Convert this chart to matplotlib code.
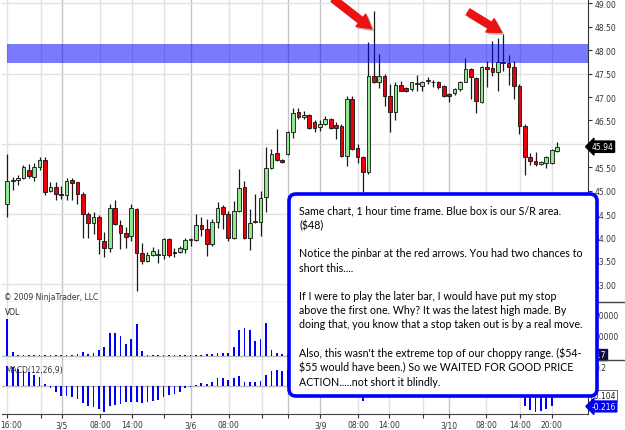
import matplotlib
matplotlib.use('Agg')
import matplotlib.pyplot as plt
import matplotlib.transforms as mtransforms
import numpy as np
from matplotlib.patches import FancyBboxPatch, Rectangle
from matplotlib.lines import Line2D

# hourly bars 3/4 16:00 .. 3/10 20:00
opens = [44.72, 45.20, 45.23, 45.27, 45.44, 45.29, 45.50, 45.66, 45.00, 45.07,
         44.92, 44.91, 45.23, 45.18, 44.94, 44.50, 44.31, 44.43, 43.93, 43.77,
         44.64, 44.27, 44.09, 44.03, 44.61, 43.66, 43.50, 43.63, 43.63, 43.63,
         43.97, 43.68, 43.68, 43.75, 43.95, 43.95, 44.27, 44.18, 43.86, 44.34,
         44.66, 44.50, 43.98, 44.57, 45.07, 43.98, 44.33, 44.34, 44.86, 45.48,
         45.81, 45.66, 45.78, 46.25, 46.68, 46.57, 46.62, 46.46, 46.37, 46.43,
         46.53, 46.40, 46.39, 45.75, 46.96, 45.91, 45.73, 45.39, 47.46, 47.32,
         47.46, 47.03, 46.69, 47.26, 47.19, 47.17, 47.28, 47.23, 47.35, 47.33,
         47.32, 47.23, 47.07, 47.08, 47.17, 47.33, 47.59, 47.40, 46.89, 47.64,
         47.62, 47.54, 47.74, 47.72, 47.64, 47.24, 46.39, 45.71, 45.64, 45.56,
         45.59, 45.60, 45.85]
highs = [45.78, 45.30, 45.34, 45.55, 45.56, 45.60, 45.71, 45.71, 45.19, 45.19,
         45.10, 45.27, 45.27, 45.19, 44.97, 44.54, 44.55, 44.48, 44.12, 44.72,
         44.80, 44.37, 44.22, 44.72, 44.62, 43.88, 43.70, 43.79, 43.75, 44.00,
         43.99, 43.77, 43.81, 44.00, 44.00, 44.50, 44.43, 44.40, 44.40, 44.76,
         44.69, 44.57, 44.79, 45.46, 45.21, 44.61, 44.93, 45.00, 45.93, 45.89,
         46.32, 45.68, 46.28, 46.76, 46.76, 46.71, 46.64, 46.50, 46.50, 46.60,
         46.55, 46.46, 46.43, 47.03, 47.03, 46.00, 45.75, 48.17, 48.85, 47.92,
         47.49, 47.28, 47.32, 47.35, 47.22, 47.33, 47.47, 47.35, 47.42, 47.36,
         47.35, 47.26, 47.08, 47.19, 47.35, 47.83, 47.62, 47.42, 47.66, 47.78,
         48.20, 48.26, 48.35, 47.90, 47.78, 47.28, 46.43, 45.80, 45.82, 45.63,
         45.75, 45.90, 46.05]
lows = [44.43, 45.02, 45.12, 45.25, 45.27, 45.20, 45.45, 44.91, 44.97, 44.80,
        44.82, 44.80, 44.80, 44.72, 43.98, 44.00, 44.07, 43.65, 43.58, 43.70,
        44.27, 43.75, 43.77, 43.93, 42.86, 43.43, 43.48, 43.61, 43.45, 43.54,
        43.59, 43.58, 43.67, 43.66, 43.82, 43.93, 44.04, 43.61, 43.82, 44.20,
        44.18, 43.93, 43.97, 44.54, 43.97, 43.73, 44.31, 44.03, 44.54, 45.46,
        45.64, 45.60, 45.76, 46.12, 46.53, 46.53, 46.32, 46.26, 46.28, 46.40,
        46.31, 46.10, 45.71, 45.53, 45.87, 45.60, 44.98, 45.36, 47.30, 47.19,
        46.80, 46.25, 46.50, 47.12, 47.10, 47.14, 47.14, 47.14, 47.27, 47.21,
        47.17, 47.00, 46.89, 47.05, 47.14, 47.33, 46.97, 46.66, 46.87, 47.21,
        47.46, 47.12, 47.56, 47.26, 46.97, 46.21, 45.34, 45.55, 45.52, 45.54,
        45.48, 45.57, 45.82]
closes = [45.20, 45.22, 45.28, 45.50, 45.31, 45.50, 45.66, 44.97, 45.07, 44.94,
          44.90, 45.21, 45.16, 44.94, 44.50, 44.31, 44.43, 43.97, 43.77, 44.64,
          44.29, 44.09, 44.02, 44.62, 43.66, 43.50, 43.63, 43.72, 43.64, 43.97,
          43.63, 43.67, 43.77, 43.95, 43.96, 44.27, 44.18, 43.86, 44.34, 44.64,
          44.50, 43.98, 44.57, 45.05, 44.00, 44.31, 44.34, 44.84, 45.48, 45.78,
          45.66, 45.62, 46.26, 46.65, 46.57, 46.62, 46.35, 46.35, 46.43, 46.53,
          46.33, 46.33, 45.75, 46.96, 45.89, 45.73, 45.39, 47.46, 47.32, 47.46,
          47.03, 46.68, 47.26, 47.14, 47.12, 47.32, 47.29, 47.32, 47.36, 47.32,
          47.21, 47.03, 47.03, 47.17, 47.33, 47.59, 47.42, 46.92, 47.64, 47.59,
          47.53, 47.74, 47.72, 47.64, 47.24, 46.38, 45.71, 45.64, 45.56, 45.62,
          45.71, 45.88, 45.94]
volumes = [18000, 1950, 350, 350, 350, 350, 150, 350, 350, 350,
           350, 350, 490, 830, 1950, 830, 1300, 2800, 4400, 11100,
           11100, 9800, 5700, 8200, 15500, 2450, 350, 150, 150, 350,
           150, 150, 150, 350, 150, 350, 350, 640, 830, 1470,
           1470, 1470, 4070, 12600, 13400, 12600, 7350, 8200, 16000, 2800,
           1470, 640, 350, 900, 400, 300, 350, 300, 250, 300,
           350, 400, 900, 3500, 5200, 4800, 6100, 17800, 15200, 9600,
           8800, 11400, 7200, 2600, 1400, 900, 700, 500, 400, 350,
           400, 450, 500, 450, 600, 1900, 3100, 5600, 8700, 6400,
           9100, 10800, 12200, 7600, 8900, 14300, 12100, 5200, 3300, 1800,
           1200, 900, 417]
macdDiff = [0.209, 0.191, 0.174, 0.156, 0.139, 0.112, 0.087, 0.018, -0.028, -0.070,
            -0.112, -0.112, -0.122, -0.139, -0.180, -0.216, -0.226, -0.243, -0.278, -0.216,
            -0.201, -0.191, -0.174, -0.174, -0.174, -0.180, -0.174, -0.164, -0.149, -0.115,
            -0.097, -0.087, -0.063, -0.028, -0.018, 0.010, 0.024, 0.018, 0.042, 0.076,
            0.076, 0.063, 0.076, 0.097, 0.042, 0.042, 0.042, 0.052, 0.112, 0.156,
            0.164, 0.156, 0.167, 0.188, 0.177, 0.156, 0.125, 0.094, 0.063, 0.042,
            0.021, -0.010, -0.052, -0.021, -0.063, -0.094, -0.156, 0.063, 0.125, 0.167,
            0.146, 0.094, 0.083, 0.073, 0.052, 0.042, 0.031, 0.021, 0.021, 0.010,
            0.0, -0.021, -0.031, -0.031, -0.021, 0.010, 0.0, -0.031, 0.0, 0.010,
            0.010, 0.021, 0.021, 0.010, -0.021, -0.094, -0.209, -0.250, -0.271, -0.261,
            -0.243, -0.216, -0.099]

tickPos = [1.0, 7.2, 11.1, 18.2, 24.1, 30.1, 35.1, 42.1, 48.2, 53.1,
           59.1, 66.1, 71.9, 78.1, 83.0, 89.9, 96.1, 102.0]
tickLabels = ['16:00', '', '3/5', '08:00', '14:00', '', '3/6', '08:00', '', '',
              '3/9', '08:00', '14:00', '', '3/10', '08:00', '14:00', '20:00']
dayLines = [11.1, 35.1, 53.1, 59.1, 83.0]

priceTicks = np.arange(43, 49.01, 0.5)
srLow, srHigh = 47.72, 48.13
lastPrice = 45.94
macdLabels = [-0.104, -0.216]

noteLines = [
    "Same chart, 1 hour time frame. Blue box is our S/R area.",
    "($48)",
    "",
    "Notice the pinbar at the red arrows. You had two chances to",
    "short this....",
    "",
    "If I were to play the later bar, I would have put my stop",
    "above the first one. Why? It was the latest high made. By",
    "doing that, you know that a stop taken out is by a real move.",
    "",
    "Also, this wasn't the extreme top of our choppy range. ($54-",
    "$55 would have been.) So we WAITED FOR GOOD PRICE",
    "ACTION.....not short it blindly.",
]

W, H = 625, 431
def pxBox(x0, y0, x1, y1):
    return [x0 / W, 1 - y1 / H, (x1 - x0) / W, (y1 - y0) / H]

fig = plt.figure(figsize=(W / 100, H / 100), dpi=100)
axP = fig.add_axes(pxBox(2, 0, 588, 303))
axV = fig.add_axes(pxBox(2, 303, 588, 361), sharex=axP)
axM = fig.add_axes(pxBox(2, 361, 588, 415), sharex=axP)

o = np.array(opens); h = np.array(highs); l = np.array(lows); c = np.array(closes)
x = np.arange(1, len(o) + 1)
up = c >= o

for ax in (axP, axV, axM):
    for t in tickPos:
        dark = t in dayLines
        ax.axvline(t, color='#c4c4c4' if dark else '#e2e2e2', lw=1.0, zorder=0)
    for s in ['top', 'left']:
        ax.spines[s].set_visible(False)
    ax.spines['right'].set_color('#333333')
    ax.spines['bottom'].set_color('#444444')
    ax.yaxis.tick_right()
    ax.tick_params(axis='y', labelsize=5.5, length=3, width=0.8, pad=1.5,
                   colors='#333333')
    ax.tick_params(axis='x', bottom=False, labelbottom=False)

# price panel
for lvl in [43.0, 44.5, 46.0, 47.5, 49.0]:
    axP.axhline(lvl, color='#e2e2e2', lw=1.0, zorder=0)
axP.vlines(x, l, h, color='#1a1a1a', lw=0.9, zorder=3)
bodyLow = np.minimum(o, c)
bodyH = np.maximum(np.abs(c - o), 0.012)
axP.bar(x, bodyH, bottom=bodyLow, width=0.68,
        color=np.where(up, '#8ee88e', '#e8000b'), edgecolor='#111111',
        linewidth=0.6, zorder=4)
axP.add_patch(Rectangle((1, srLow), 120, srHigh - srLow, facecolor='#0000ff',
                        alpha=0.52, lw=0, zorder=5))
axP.set_xlim(0.017, 108.74)
axP.set_ylim(42.622, 49.096)
axP.set_yticks(priceTicks)
# the 46.00 label sits under the last-price marker
axP.set_yticklabels(['' if abs(v - 46.0) < 0.01 else '%.2f' % v for v in priceTicks])
axP.text(1.006, lastPrice, '%.2f' % lastPrice, transform=axP.get_yaxis_transform(),
         fontsize=5.5, color='white', va='center', ha='left', zorder=7,
         bbox=dict(boxstyle='larrow,pad=0.15', fc='black', ec='black'))

# arrows at the pinbars
arrowStyle = 'simple,head_length=1.1,head_width=1.25,tail_width=0.55'
for tail, tip in [((61.47, 49.10), (68.6, 48.46)), ((86.48, 48.82), (92.73, 48.38))]:
    axP.annotate('', xy=(tip[0] + 0.35, tip[1] - 0.04), xytext=(tail[0] + 0.35, tail[1] - 0.04),
                 annotation_clip=False,
                 arrowprops=dict(arrowstyle=arrowStyle, color='#999999', alpha=0.5,
                                 shrinkA=0, shrinkB=0, mutation_scale=9, clip_on=False))
    axP.annotate('', xy=tip, xytext=tail, annotation_clip=False,
                 arrowprops=dict(arrowstyle=arrowStyle, color='#ee1111',
                                 shrinkA=0, shrinkB=0, mutation_scale=9, clip_on=False))

# volume panel
axV.axhline(0, color='#bbbbbb', lw=1.0, zorder=1)
axV.bar(x, volumes, width=0.32, color='#0000ff', zorder=3)
axV.set_ylim(-2098, 26195)
axV.set_yticks([10000, 20000])
axV.set_yticklabels(['10000', '20000'])
axV.text(1.006, volumes[-1], str(volumes[-1]), transform=axV.get_yaxis_transform(),
         fontsize=5.5, color='white', va='center', ha='left',
         bbox=dict(boxstyle='square,pad=0.15', fc='#101040', ec='#101040'))
axV.text(0.005, 0.84, 'VOL', transform=axV.transAxes, fontsize=5.5, color='#222222',
         va='center')

# macd panel
axM.axhline(0, color='#bbbbbb', lw=1.0, zorder=1)
axM.bar(x, macdDiff, width=0.32, color='#0000ff', zorder=3)
axM.set_ylim(-0.295, 0.268)
axM.set_yticks([0.2])
axM.set_yticklabels(['0.2'])
axM.text(1.006, macdLabels[0], '%.3f' % macdLabels[0], transform=axM.get_yaxis_transform(),
         fontsize=5.5, color='#222222', va='center', ha='left',
         bbox=dict(boxstyle='square,pad=0.12', fc='white', ec='#555555', lw=0.6))
axM.text(1.006, macdLabels[1], '%.3f' % macdLabels[1], transform=axM.get_yaxis_transform(),
         fontsize=5.5, color='white', va='center', ha='left',
         bbox=dict(boxstyle='larrow,pad=0.12', fc='#0000ee', ec='#0000ee'))
axM.text(0.005, 0.83, 'MACD(12,26,9)', transform=axM.transAxes, fontsize=5.5,
         color='#333333', va='center')
axM.set_xticks(tickPos)
axM.set_xticklabels(tickLabels)
axM.tick_params(axis='x', bottom=True, labelbottom=True, labelsize=5.5, length=3,
                width=0.8, pad=1.5, colors='#333333')
firstLabel = axM.get_xticklabels()[0]
firstLabel.set_transform(firstLabel.get_transform() +
                         mtransforms.ScaledTranslation(0.04, 0, fig.dpi_scale_trans))

fig.text(4 / W, 1 - 297 / H, '\u00a9 2009 NinjaTrader, LLC', fontsize=5.5,
         color='#333333', va='center')

# separators running past the price scale
for yy in [303, 361]:
    fig.add_artist(Line2D([588 / W, 1], [1 - yy / H] * 2, color='#444444', lw=1.0,
                          zorder=0.5))

# comment box
note = FancyBboxPatch((2.89, 0.34), 3.08, 2.02,
                      boxstyle='round,pad=0,rounding_size=0.07',
                      transform=fig.dpi_scale_trans, facecolor='white',
                      edgecolor='#0000ff', linewidth=2.6, zorder=1)
fig.add_artist(note)
for k, line in enumerate(noteLines):
    if line:
        fig.text(299 / W, 1 - (211 + 14.25 * k) / H, line, fontsize=7.7,
                 family='Lato', color='black', va='center', ha='left',
                 parse_math=False, zorder=3)

fig.savefig('out.png', dpi=100)
